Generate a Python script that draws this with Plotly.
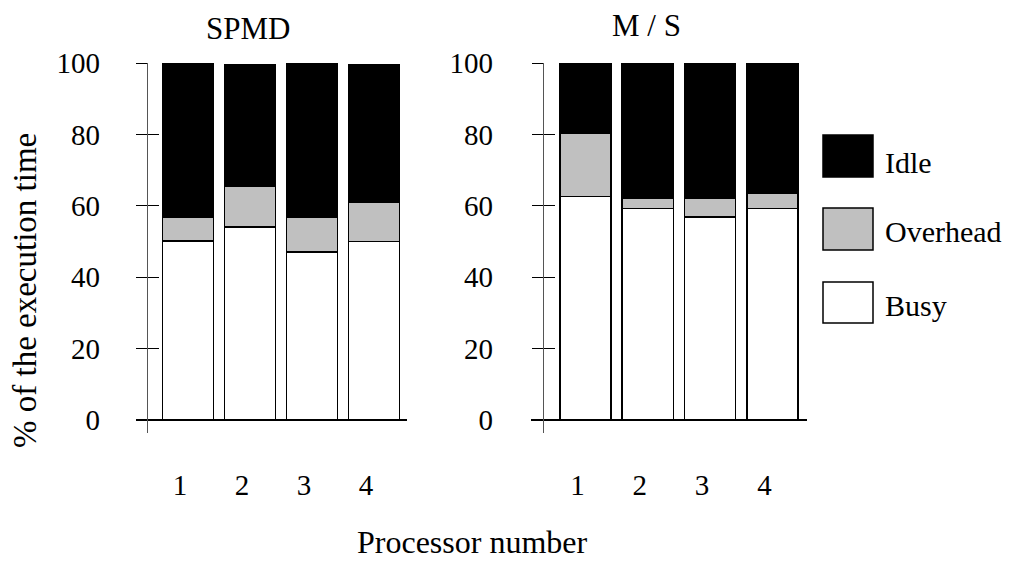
import plotly.graph_objects as go

# ---- data ----
processors = [1, 2, 3, 4]
tick_labels = ["1", "2", "3", "4"]
y_ticks = [0, 20, 40, 60, 80, 100]

series_names = ["Busy", "Overhead", "Idle"]
series_colors = ["#ffffff", "#c0c0c0", "#000000"]

spmd_busy = [50.1, 54.1, 47.0, 50.0]
spmd_overhead = [6.8, 11.5, 9.9, 11.0]
spmd_idle = [43.1, 33.9, 43.1, 38.5]

ms_busy = [62.6, 59.3, 56.8, 59.3]
ms_overhead = [17.7, 2.7, 5.2, 4.1]
ms_idle = [19.7, 38.0, 38.0, 36.6]

panel_titles = ["SPMD", "M / S"]

FONT = "Liberation Serif, Times New Roman, serif"
OFF = 8  # page body margin
W, H = 1020 - OFF, 561 - OFF


def px(x):
    return (x - OFF) / W


def py(y):
    return (H - (y - OFF)) / H


fig = go.Figure()

panels = [
    ("x", "y", [spmd_busy, spmd_overhead, spmd_idle]),
    ("x2", "y2", [ms_busy, ms_overhead, ms_idle]),
]
for xa, ya, vals in panels:
    for name, color, v in zip(series_names, series_colors, vals):
        fig.add_trace(go.Bar(
            x=processors, y=v, name=name, xaxis=xa, yaxis=ya,
            marker=dict(color=color, line=dict(color="#000000", width=1.6)),
            width=0.82, showlegend=False,
        ))

yrange = [-3.6, 100]
ydom = [py(432.9), py(63)]

common_y = dict(
    range=yrange, domain=ydom, tickvals=y_ticks, showgrid=False,
    showline=True, linecolor="#555555", linewidth=1.2,
    ticks="outside", ticklen=11, tickcolor="#000000", tickwidth=1.2,
    tickfont=dict(family=FONT, size=29, color="#000000"),
    anchor="free", fixedrange=True, automargin=False,
    zeroline=True, zerolinecolor="#000000", zerolinewidth=1.5,
)
common_x = dict(
    tickvals=processors, ticktext=tick_labels, showgrid=False, showline=False,
    ticks="", zeroline=False, automargin=False,
    tickfont=dict(family=FONT, size=29, color="#000000"),
    ticklabelstandoff=32, ticklabelshift=-8, fixedrange=True,
)
overlay_y = dict(
    range=yrange, tickvals=y_ticks, showgrid=False, zeroline=False,
    showline=False, ticks="inside", ticklen=11, tickcolor="#000000",
    tickwidth=1.2, showticklabels=False, anchor="free", fixedrange=True,
    automargin=False,
)

fig.update_layout(
    template="none",
    width=W, height=H,
    margin=dict(l=0, r=0, t=0, b=0, pad=0),
    paper_bgcolor="white", plot_bgcolor="white",
    barmode="stack",
    showlegend=False,
    xaxis=dict(domain=[px(136), px(407)], range=[0.161, 4.532], anchor="y", **common_x),
    xaxis2=dict(domain=[px(531), px(807)], range=[0.125, 4.555], anchor="y2", **common_x),
    yaxis=dict(position=px(147), ticklabelstandoff=30, **common_y),
    yaxis2=dict(position=px(543), ticklabelstandoff=33, **common_y),
    yaxis3=dict(overlaying="y", position=px(147), **overlay_y),
    yaxis4=dict(overlaying="y2", position=px(543), **overlay_y),
)

# invisible traces so the overlay (crossing-tick) axes render
fig.add_trace(go.Scatter(x=[None], y=[None], xaxis="x", yaxis="y3", showlegend=False, hoverinfo="skip"))
fig.add_trace(go.Scatter(x=[None], y=[None], xaxis="x2", yaxis="y4", showlegend=False, hoverinfo="skip"))

annotations = [
    dict(text=panel_titles[0], x=px(248), y=py(28), size=31),
    dict(text=panel_titles[1], x=px(646), y=py(26), size=31),
    dict(text="Processor number", x=px(472), y=py(542), size=32),
    dict(text="% of the execution time", x=px(25), y=py(291), textangle=-90, size=33),
]
for a in annotations:
    size = a.pop("size")
    fig.add_annotation(xref="paper", yref="paper", showarrow=False,
                       xanchor="center", yanchor="middle",
                       font=dict(family=FONT, size=size, color="#000000"), **a)

# legend (drawn manually for large swatches)
legend_rows = [("Idle", series_colors[2], 135, 177, 163),
               ("Overhead", series_colors[1], 208, 250, 231),
               ("Busy", series_colors[0], 282, 323, 305)]
for name, color, y0, y1, ytxt in legend_rows:
    fig.add_shape(type="rect", xref="paper", yref="paper",
                  x0=px(823), x1=px(873), y0=py(y1), y1=py(y0),
                  fillcolor=color, line=dict(color="#000000", width=1.5))
    fig.add_annotation(xref="paper", yref="paper", showarrow=False,
                       x=px(883), y=py(ytxt), xanchor="left", yanchor="middle",
                       text=name, font=dict(family=FONT, size=30, color="#000000"))

fig.write_html("out.html")
